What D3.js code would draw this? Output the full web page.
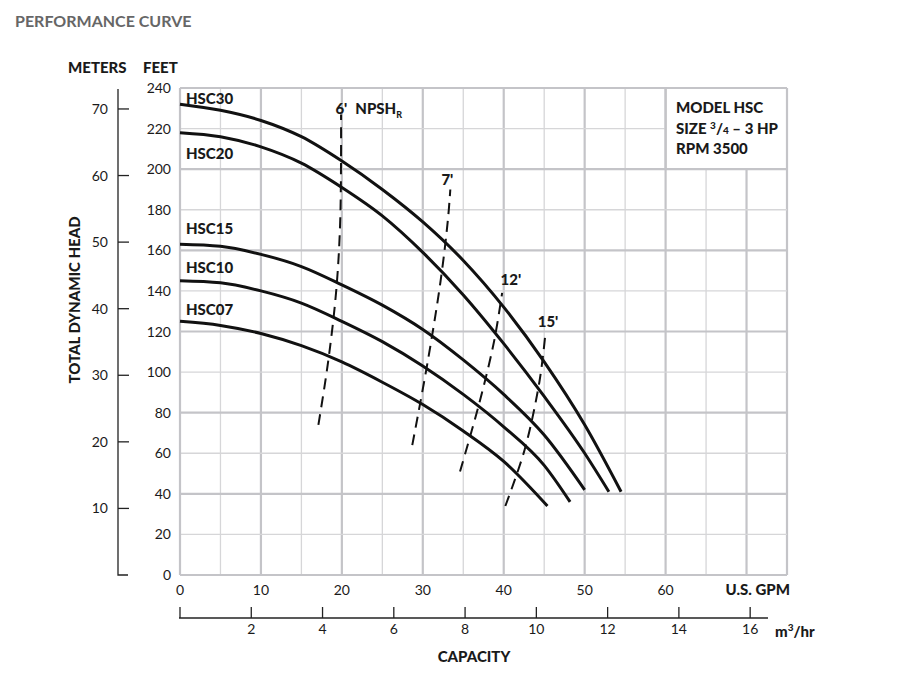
<!DOCTYPE html><html><head><meta charset="utf-8">
<script src="https://cdn.jsdelivr.net/npm/d3@7"></script>
<style>body{margin:0;background:#fff}text{font-family:Lato,"Open Sans",sans-serif;fill:#1a1a1a}</style></head><body>
<svg id="c" width="899" height="679"></svg>
<script>
const gpmTicks=[0,10,20,30,40,50,60];
const feetTicks=[0,20,40,60,80,100,120,140,160,180,200,220,240];
const meterTicks=[10,20,30,40,50,60,70];
const m3Ticks=[0,2,4,6,8,10,12,14,16];
const pumps=["HSC30","HSC20","HSC15","HSC10","HSC07"];
const HSC30=[[0,232],[5,229],[10,224],[15,216],[20,204],[25,190],[30,174],[35,155],[40,132],[45,105],[50,74],[54.5,41]];
const HSC20=[[0,218],[5,216],[10,211],[15,203],[20,191],[25,177],[30,159],[35,138],[40,114],[45,88],[50,60],[53,41]];
const HSC15=[[0,163],[5,162],[10,158],[15,152],[20,143],[25,133],[30,121],[35,106],[40,89],[45,69],[50,42]];
const HSC10=[[0,145],[5,144],[10,140],[15,134],[20,125],[25,115],[30,103],[35,89],[40,73],[45,54],[48.2,36]];
const HSC07=[[0,125],[5,123],[10,119],[15,113],[20,105],[25,95],[30,84],[35,71],[40,56],[45.4,34]];
const labelFeet=[232,205,168,149,128];
const npshNames=["6'","7'","12'","15'"];
const NPSH6=[[17.1,74],[18.3,105],[19.3,140],[19.8,175],[19.9,227]];
const NPSH7=[[28.7,64],[30.6,105],[32.2,145],[33.1,175],[33.4,190]];
const NPSH12=[[34.6,51],[37,85],[38.8,115],[39.8,139]];
const NPSH15=[[40.2,34],[42.6,62],[44.4,95],[45.1,117]];
const npshLabelPos=[[19.2,227],[32.3,192],[39.6,143],[44.2,122]];

const svg=d3.select("#c");
const x=d3.scaleLinear().domain([0,75]).range([180,787]);
const y=d3.scaleLinear().domain([0,240]).range([575,88]);
const m3=d3.scaleLinear().domain([0,75/4.403]).range([180,787]);
const ym=d3.scaleLinear().domain([0,240/3.281]).range([575,88]);
const g=svg.append("g");
for(let v=5;v<=75;v+=5){const major=v%10==0;
  const top=v>60&&v<75?y(200):y(240);
  g.append("line").attr("x1",x(v)).attr("x2",x(v)).attr("y1",y(0)).attr("y2",top).attr("stroke",major||v==75?"#c4c4c8":"#d6d6d8").attr("stroke-width",major||v==75?2.2:1.3);}
for(let f=20;f<=240;f+=20){const major=f%40==0;
  g.append("line").attr("x1",x(0)).attr("x2",f>200&&f<240?x(60):x(75)).attr("y1",y(f)).attr("y2",y(f)).attr("stroke",major||f==240?"#c4c4c8":"#d6d6d8").attr("stroke-width",major||f==240?2.2:1.3);}
g.append("line").attr("x1",x(0)).attr("x2",x(0)).attr("y1",y(0)).attr("y2",y(240)).attr("stroke","#c4c4c8").attr("stroke-width",2.2);
g.append("line").attr("x1",x(0)).attr("x2",x(75)).attr("y1",y(0)).attr("y2",y(0)).attr("stroke","#c4c4c8").attr("stroke-width",2.2);
g.append("line").attr("x1",x(60)).attr("x2",x(60)).attr("y1",y(200)).attr("y2",y(240)).attr("stroke","#c4c4c8").attr("stroke-width",2.2);
feetTicks.forEach(f=>svg.append("text").attr("x",171).attr("y",y(f)+5).attr("text-anchor","end").attr("font-size",14).text(f));
gpmTicks.forEach(v=>svg.append("text").attr("x",x(v)).attr("y",595).attr("text-anchor","middle").attr("font-size",14).text(v));
svg.append("path").attr("d",`M118,${ym(73)}V575H128`).attr("fill","none").attr("stroke","#222").attr("stroke-width",1.3);
meterTicks.forEach(m=>{svg.append("line").attr("x1",118).attr("x2",129).attr("y1",ym(m)).attr("y2",ym(m)).attr("stroke","#222").attr("stroke-width",1.3);
 svg.append("text").attr("x",108).attr("y",ym(m)+5).attr("text-anchor","end").attr("font-size",14).text(m);});
svg.append("line").attr("x1",m3(0)-1).attr("x2",m3(16.5)).attr("y1",618).attr("y2",618).attr("stroke","#222").attr("stroke-width",1.3);
m3Ticks.forEach(v=>{svg.append("line").attr("x1",m3(v)).attr("x2",m3(v)).attr("y1",607).attr("y2",618).attr("stroke","#222").attr("stroke-width",1.3);
 if(v>0)svg.append("text").attr("x",m3(v)).attr("y",634).attr("text-anchor","middle").attr("font-size",14).text(v);});
const line=d3.line().x(d=>x(d[0])).y(d=>y(d[1])).curve(d3.curveMonotoneX);
[HSC30,HSC20,HSC15,HSC10,HSC07].forEach((d,i)=>{
 svg.append("path").attr("d",line(d)).attr("fill","none").attr("stroke","#111").attr("stroke-width",3);
 svg.append("text").attr("x",186).attr("y",y(labelFeet[i])).attr("font-size",15).attr("font-weight",900).text(pumps[i]);});
const nline=d3.line().x(d=>x(d[0])).y(d=>y(d[1])).curve(d3.curveCatmullRom);
[NPSH6,NPSH7,NPSH12,NPSH15].forEach((d,i)=>{
 svg.append("path").attr("d",nline(d)).attr("fill","none").attr("stroke","#111").attr("stroke-width",2).attr("stroke-dasharray","11,7");
 const p=npshLabelPos[i];
 const t=svg.append("text").attr("x",x(p[0])).attr("y",y(p[1])).attr("font-size",15).attr("font-weight",900).text(npshNames[i]);
 if(i==0){t.append("tspan").attr("dx",8).text("NPSH");t.append("tspan").attr("font-size",9).attr("dy",4).text("R");}});
svg.append("text").attr("x",15).attr("y",27).attr("font-size",16).attr("font-weight",700).style("fill","#666").text("PERFORMANCE CURVE");
svg.append("text").attr("x",68).attr("y",73).attr("font-size",15).attr("font-weight",900).text("METERS");
svg.append("text").attr("x",143).attr("y",73).attr("font-size",15).attr("font-weight",900).text("FEET");
svg.append("text").attr("transform","translate(80,300) rotate(-90)").attr("text-anchor","middle").attr("font-size",15).attr("font-weight",900).text("TOTAL DYNAMIC HEAD");
svg.append("text").attr("x",790).attr("y",595).attr("text-anchor","end").attr("font-size",15).attr("font-weight",900).text("U.S. GPM");
const mt=svg.append("text").attr("x",775).attr("y",637).attr("font-size",15).attr("font-weight",900).text("m");
mt.append("tspan").attr("font-size",10).attr("dy",-6).text("3");mt.append("tspan").attr("dy",6).text("/hr");
svg.append("text").attr("x",474).attr("y",662).attr("text-anchor","middle").attr("font-size",15).attr("font-weight",900).text("CAPACITY");
const bx=676;
svg.append("text").attr("x",bx).attr("y",113).attr("font-size",15).attr("font-weight",900).text("MODEL HSC");
const s=svg.append("text").attr("x",bx).attr("y",134).attr("font-size",15).attr("font-weight",900).text("SIZE ");
s.append("tspan").attr("font-size",10).attr("dy",-5).text("3");s.append("tspan").attr("dy",5).text("/");s.append("tspan").attr("font-size",10).text("4");s.append("tspan").text(" – 3 HP");
svg.append("text").attr("x",bx).attr("y",154).attr("font-size",15).attr("font-weight",900).text("RPM 3500");
</script></body></html>
